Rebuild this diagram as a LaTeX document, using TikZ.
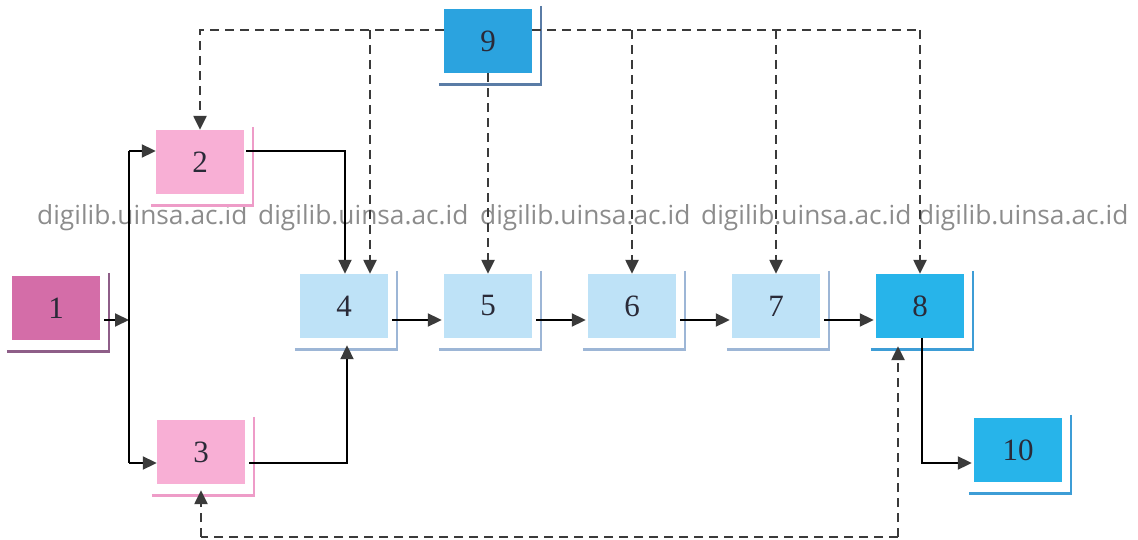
\documentclass[tikz,border=0pt]{standalone}
\usepackage{fontspec}
\setmainfont{Liberation Serif}
\newfontfamily\wmfont{Open Sans}
\usetikzlibrary{arrows.meta,calc}
\definecolor{magbox}{HTML}{D46DA8}
\definecolor{magsh}{HTML}{8E5E88}
\definecolor{pinkbox}{HTML}{F8AFD5}
\definecolor{pinksh}{HTML}{EE9CC8}
\definecolor{lbbox}{HTML}{BEE2F7}
\definecolor{lbsh}{HTML}{9DB6D6}
\definecolor{cybox}{HTML}{27B4EA}
\definecolor{cysh}{HTML}{3D9DD6}
\definecolor{bl9box}{HTML}{2BA3DF}
\definecolor{bl9sh}{HTML}{5A7CA6}
\definecolor{numcol}{HTML}{2A2A38}
\definecolor{arrcol}{HTML}{3A3A3A}
\definecolor{wmcol}{HTML}{8C8C8C}
\tikzset{
  boxnode/.style={minimum width=88pt,minimum height=64pt,inner sep=0pt,draw=none,
    font=\fontsize{31}{31}\selectfont,text=numcol},
  conn/.style={line width=2pt,black,-{Triangle[length=14pt,width=13pt,fill=arrcol,color=arrcol]}},
  plain/.style={line width=2pt,black},
  dconn/.style={line width=2.4pt,arrcol,dash pattern=on 9pt off 6pt,-{Triangle[length=14pt,width=13pt,fill=arrcol,color=arrcol]}},
  dplain/.style={line width=2.4pt,arrcol,dash pattern=on 9pt off 6pt},
  wm/.style={anchor=base west,inner sep=0pt,text=wmcol,font=\wmfont\fontsize{26.3}{26.3}\selectfont}
}
\newcommand{\boxshadow}[2]{%
  \draw[#2,line width=2pt] ([xshift=9pt,yshift=3pt]#1.north east) -- ([xshift=9pt,yshift=-13pt]#1.south east);
  \draw[#2,line width=3pt] ([xshift=-5pt,yshift=-11pt]#1.south west) -- ([xshift=10pt,yshift=-11pt]#1.south east);}
\begin{document}
\begin{tikzpicture}[x=1pt,y=-1pt]
\useasboundingbox (0,0) rectangle (1138,540);
% watermark
\node[wm] (w1) at (37,225) {digilib.uinsa.ac.id};
\node[wm] (w2) at (258,225) {digilib.uinsa.ac.id};
\node[wm] (w3) at (480,225) {digilib.uinsa.ac.id};
\node[wm] (w4) at (701,225) {digilib.uinsa.ac.id};
\node[wm] (w5) at (918,225) {digilib.uinsa.ac.id};
% boxes
\node[boxnode,fill=magbox] (b1) at (56,308) {1};
\node[boxnode,fill=pinkbox] (b2) at (200,162) {2};
\node[boxnode,fill=pinkbox] (b3) at (201,452) {3};
\node[boxnode,fill=lbbox] (b4) at (344,306) {4};
\node[boxnode,fill=lbbox] (b5) at (488,306) {5};
\node[boxnode,fill=lbbox] (b6) at (632,306) {6};
\node[boxnode,fill=lbbox] (b7) at (776,306) {7};
\node[boxnode,fill=cybox] (b8) at (920,306) {8};
\node[boxnode,fill=bl9box] (b9) at (488,41) {9};
\node[boxnode,fill=cybox] (b10) at (1018,450) {10};
\boxshadow{b1}{magsh}
\boxshadow{b2}{pinksh}
\boxshadow{b3}{pinksh}
\boxshadow{b4}{lbsh}
\boxshadow{b5}{lbsh}
\boxshadow{b6}{lbsh}
\boxshadow{b7}{lbsh}
\boxshadow{b8}{cysh}
\boxshadow{b9}{bl9sh}
\boxshadow{b10}{cysh}
% junctions
\coordinate (bus) at (129,320);
\coordinate (bustop) at (129,151);
\coordinate (busbot) at (129,463);
\coordinate (top) at (0,30);
\coordinate (bot) at (0,537);
% solid connectors
\draw[conn] ([xshift=4pt]b1.east |- bus) -- (bus);
\draw[plain] (bustop) -- (busbot);
\draw[conn] (bustop) -- (b2.west |- bustop);
\draw[conn] (busbot) -- (b3.west |- busbot);
\draw[conn] ([xshift=2pt]b2.east |- bustop) -| ([xshift=1pt]b4.north);
\draw[conn] ([xshift=4pt]b3.east |- busbot) -| ([xshift=3pt,yshift=-7pt]b4.south);
\draw[conn] ([xshift=4pt]b4.east |- bus) -- ([xshift=-2pt]b5.west |- bus);
\draw[conn] ([xshift=4pt]b5.east |- bus) -- ([xshift=-2pt]b6.west |- bus);
\draw[conn] ([xshift=4pt]b6.east |- bus) -- ([xshift=-2pt]b7.west |- bus);
\draw[conn] ([xshift=4pt]b7.east |- bus) -- ([xshift=-2pt]b8.west |- bus);
\draw[conn] ([xshift=2pt]b8.south) |- ([xshift=-2pt]b10.west |- busbot);
% dashed connectors
\draw[dconn] (b9.west |- top) -| (b2.north);
\draw[dconn] (370,30) -- (b4.north -| 370,0);
\draw[dconn] (b9.south) -- (b5.north);
\draw[dplain] (b9.east |- top) -- (920,30);
\draw[dconn] (632,30) -- (b6.north);
\draw[dconn] (776,30) -- (b7.north);
\draw[dconn] (920,30) -- (b8.north);
\draw[dplain] ([xshift=-22pt]b8.south |- bot) -- (b3.south |- bot);
\draw[dconn] ([xshift=-22pt]b8.south |- bot) -- ([xshift=-22pt,yshift=-8pt]b8.south);
\draw[dconn] (b3.south |- bot) -- ([yshift=-6pt]b3.south);
\end{tikzpicture}
\end{document}
